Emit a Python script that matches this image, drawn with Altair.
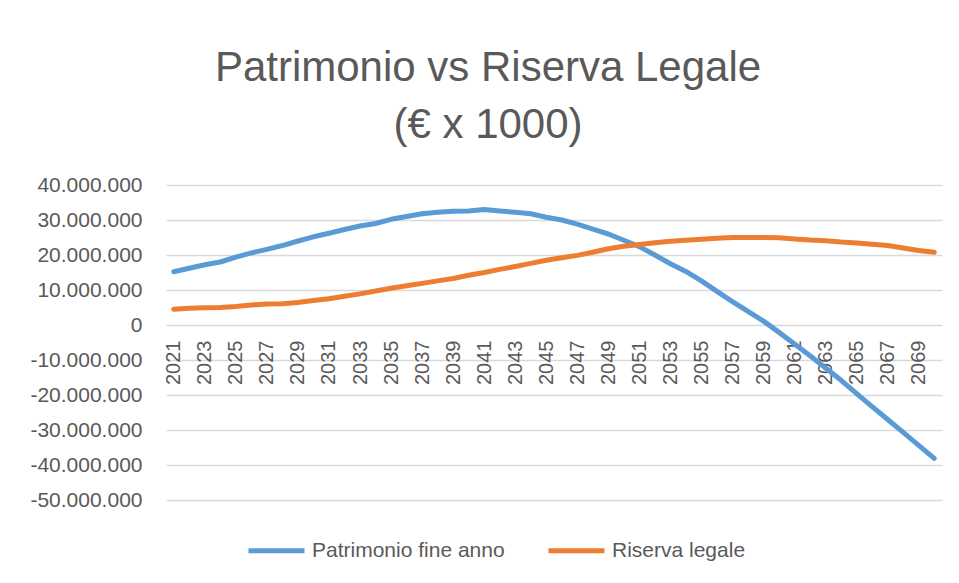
import altair as alt
import pandas as pd

years = list(range(2021, 2071))

patrimonio = [
    15.2, 16.2, 17.2, 18.0, 19.4, 20.6, 21.6, 22.7, 24.0, 25.2,
    26.2, 27.3, 28.3, 29.0, 30.2, 31.0, 31.8, 32.2, 32.5, 32.6,
    33.0, 32.6, 32.2, 31.8, 30.8, 30.0, 28.8, 27.4, 26.0, 24.2,
    22.4, 20.0, 17.5, 15.3, 12.6, 9.6, 6.7, 3.9, 1.1, -2.1,
    -5.4, -8.8, -12.3, -15.8, -19.6, -23.3, -27.0, -30.7, -34.4, -38.1,
]

riserva = [
    4.5, 4.8, 4.9, 5.0, 5.3, 5.7, 6.0, 6.1, 6.4, 7.0,
    7.5, 8.2, 8.9, 9.7, 10.5, 11.2, 11.9, 12.6, 13.3, 14.2,
    15.0, 15.9, 16.7, 17.6, 18.5, 19.2, 19.9, 20.8, 21.8, 22.5,
    23.0, 23.5, 23.9, 24.2, 24.5, 24.8, 25.0, 25.0, 25.0, 24.9,
    24.6, 24.3, 24.1, 23.7, 23.4, 23.1, 22.7, 22.0, 21.3, 20.8,
]

series_names = ["Patrimonio fine anno", "Riserva legale"]
series_colors = ["#5B9BD5", "#ED7D31"]
y_ticks = [-50_000_000, -40_000_000, -30_000_000, -20_000_000, -10_000_000,
           0, 10_000_000, 20_000_000, 30_000_000, 40_000_000]
x_label_years = [str(y) for y in years if y % 2 == 1]

rows = []
for i, yr in enumerate(years):
    rows.append({"anno": str(yr), "serie": series_names[0], "valore": patrimonio[i] * 1_000_000})
    rows.append({"anno": str(yr), "serie": series_names[1], "valore": riserva[i] * 1_000_000})
df = pd.DataFrame(rows)

FONT = "Liberation Sans"
GREY = "#595959"

chart = alt.Chart(df).mark_line(
    strokeWidth=5, strokeCap="round", strokeJoin="round"
).encode(
    x=alt.X(
        "anno:O",
        sort=[str(y) for y in years],
        scale=alt.Scale(type="point", padding=0.5),
        axis=alt.Axis(
            title=None, values=x_label_years, labelAngle=270, offset=-175,
            domain=False, ticks=False, grid=False, labelPadding=15,
            labelFontSize=20, labelColor=GREY, labelFont=FONT,
        ),
    ),
    y=alt.Y(
        "valore:Q",
        scale=alt.Scale(domain=[-50_000_000, 40_000_000], nice=False, zero=False),
        axis=alt.Axis(
            title=None, values=y_ticks, format=",d", domain=False, ticks=False,
            grid=True, gridColor="#D9D9D9", gridWidth=1.5, labelPadding=24,
            labelFontSize=21, labelColor=GREY, labelFont=FONT,
        ),
    ),
    color=alt.Color(
        "serie:N",
        scale=alt.Scale(domain=series_names, range=series_colors),
        legend=alt.Legend(
            title=None, orient="none", direction="horizontal",
            legendX=80, legendY=335, symbolType="stroke", symbolSize=3136,
            symbolStrokeWidth=5, labelFontSize=21, labelColor=GREY,
            labelFont=FONT, labelOffset=5, columnPadding=33, padding=0,
            labelLimit=400,
        ),
    ),
).properties(
    width=776,
    height=315,
    autosize="none",
    padding={"left": 158, "top": 177, "right": 9, "bottom": 80},
    title=alt.TitleParams(
        text=["Patrimonio vs Riserva Legale", "(€ x 1000)"],
        fontSize=42, font=FONT, fontWeight="normal", color=GREY,
        anchor="middle", dx=-66, offset=27, lineHeight=57,
    ),
).configure(
    locale={"number": {"decimal": ",", "thousands": ".", "grouping": [3],
                       "currency": ["€", ""], "minus": "-"}},
    background="white",
).configure_view(stroke=None)

chart.save("out.html", embed_options={"renderer": "svg", "actions": False})
